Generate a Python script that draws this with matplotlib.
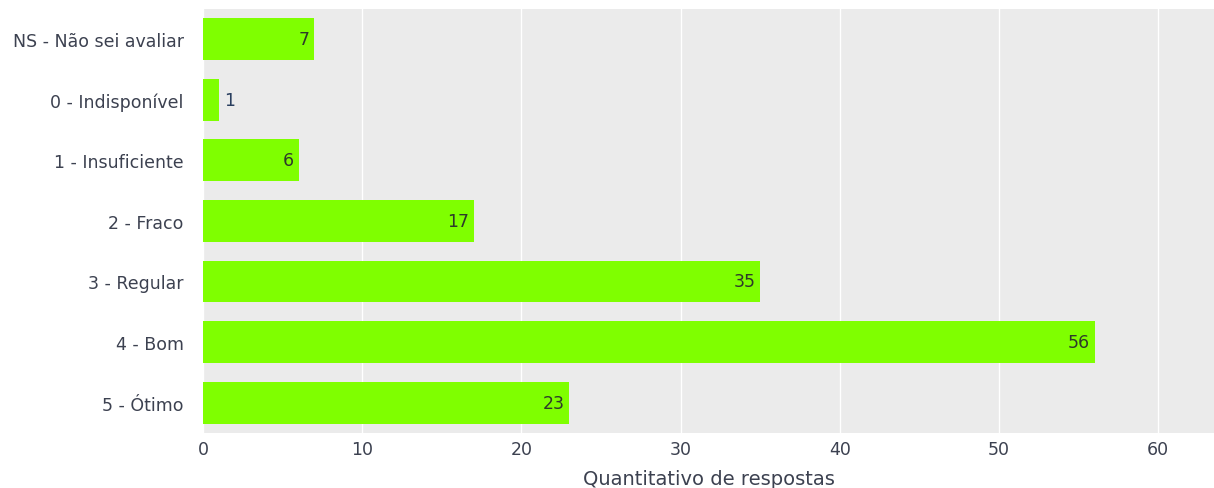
import numpy as np
import matplotlib.pyplot as plt

# --------------------------------------------------------------------------------/
categories = ['NS - Não sei avaliar', '0 - Indisponível', '1 - Insuficiente',
              '2 - Fraco', '3 - Regular', '4 - Bom', '5 - Ótimo']
values = [7, 1, 6, 17, 35, 56, 23]
xticks = [0, 10, 20, 30, 40, 50, 60]
# --------------------------------------------------------------------------------/
fig = plt.figure(figsize=(12.14, 4.89), dpi=100)
axe = fig.add_axes([0.1672, 0.1125, 0.8328, 0.8675])
axe.set_facecolor('#ebebeb')

ypos = np.arange(len(categories))
axe.barh(ypos, values, height=0.69, color='#7fff00', zorder=2)

xmax = 63.5
for y, v in zip(ypos, values):
    if v / xmax > 0.04:
        axe.text(v - 0.3, y, str(v), ha='right', va='center', fontsize=12.5,
                 color='#2e3a2a', zorder=3)
    else:
        axe.text(v + 0.3, y, str(v), ha='left', va='center', fontsize=12.5,
                 color='#2a3f5f', zorder=3)

axe.set_yticks(ypos)
axe.set_yticklabels(categories)
axe.set_ylim(len(categories) - 0.5, -0.5)
axe.set_xlim(0, xmax)
axe.set_xticks(xticks)
axe.grid(axis='x', color='white', linewidth=1.0, zorder=1)
axe.set_axisbelow(True)
for s in axe.spines.values():
    s.set_visible(False)
axe.tick_params(axis='both', length=0, labelsize=12.5, colors='#3c4150')
axe.tick_params(axis='x', pad=5)
axe.tick_params(axis='y', pad=14)
axe.set_xlabel('Quantitativo de respostas', fontsize=14, color='#3c4150', labelpad=8)

fig.savefig('out.png', dpi=100)
